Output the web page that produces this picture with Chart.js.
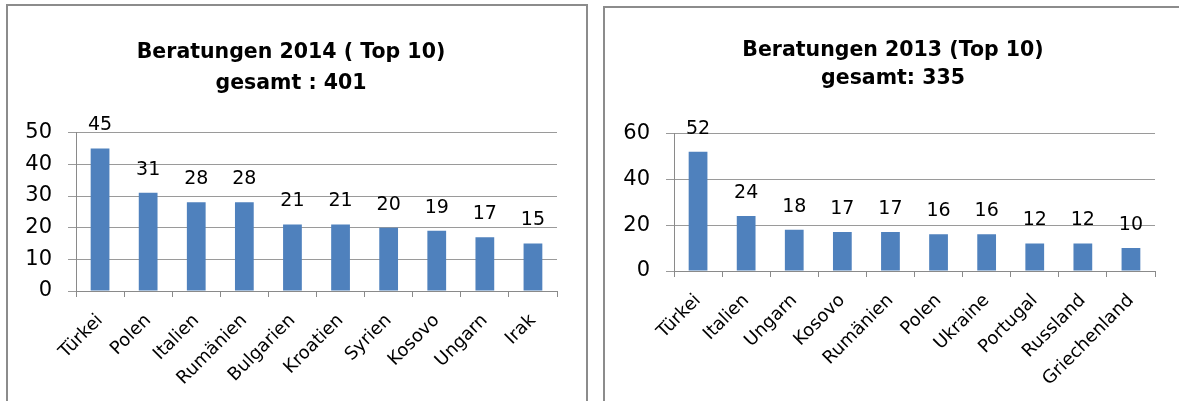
<!DOCTYPE html>
<html>
<head>
<meta charset="utf-8">
<script src="https://cdn.jsdelivr.net/npm/chart.js@4.4.1/dist/chart.umd.min.js"></script>
<style>
  html, body { margin: 0; padding: 0; background: #fff; overflow: hidden; width: 1179px; height: 401px; }
  .box { position: absolute; border: 2px solid #8c8c8c; background: #fff; }
  canvas { position: absolute; left: 0; top: 0; }
</style>
</head>
<body>
<div class="box" id="boxL" style="left:6px; top:4px; width:578px; height:520px;">
  <canvas id="cL" width="566" height="400" style="width:566px;height:400px;"></canvas>
</div>
<div class="box" id="boxR" style="left:603px; top:6px; width:600px; height:520px;">
  <canvas id="cR" width="576" height="400" style="width:576px;height:400px;"></canvas>
</div>
<script>
// ---- data ----
const categories2014 = ['Türkei', 'Polen', 'Italien', 'Rumänien', 'Bulgarien', 'Kroatien', 'Syrien', 'Kosovo', 'Ungarn', 'Irak'];
const values2014 = [45, 31, 28, 28, 21, 21, 20, 19, 17, 15];
const title2014 = ['Beratungen 2014 ( Top 10)', 'gesamt : 401'];
const yTicks2014 = { min: 0, max: 50, step: 10 };

const categories2013 = ['Türkei', 'Italien', 'Ungarn', 'Kosovo', 'Rumänien', 'Polen', 'Ukraine', 'Portugal', 'Russland', 'Griechenland'];
const values2013 = [52, 24, 18, 17, 17, 16, 16, 12, 12, 10];
const title2013 = ['Beratungen 2013 (Top 10)', 'gesamt: 335'];
const yTicks2013 = { min: 0, max: 60, step: 20 };

Chart.defaults.font.family = "'DejaVu Sans', sans-serif";
Chart.defaults.color = '#000';

const valueLabels = {
  id: 'valueLabels',
  afterDatasetsDraw(chart) {
    const ctx = chart.ctx;
    const meta = chart.getDatasetMeta(0);
    const data = chart.data.datasets[0].data;
    ctx.save();
    ctx.font = "19px 'DejaVu Sans'";
    ctx.fillStyle = '#000';
    ctx.textAlign = 'center';
    ctx.textBaseline = 'middle';
    meta.data.forEach((bar, i) => {
      ctx.fillText(String(data[i]), bar.x, bar.y - 23);
    });
    ctx.restore();
  }
};

function makeChart(id, cats, vals, title, yt, g) {
  return new Chart(document.getElementById(id), {
    type: 'bar',
    data: {
      labels: cats,
      datasets: [{
        data: vals,
        backgroundColor: '#4F81BD',
        borderWidth: 0,
        barPercentage: 0.39,
        categoryPercentage: 1.0
      }]
    },
    options: {
      responsive: false,
      animation: false,
      events: [],
      layout: { padding: 0 },
      plugins: {
        legend: { display: false },
        tooltip: { enabled: false },
        title: {
          display: true,
          text: title,
          color: '#000',
          font: { size: 20.5, weight: 'bold', lineHeight: g.lh },
          padding: { top: g.pt, bottom: g.pb }
        }
      },
      scales: {
        x: {
          grid: { display: true, drawOnChartArea: false, drawTicks: true, tickLength: 6, offset: true, color: '#8a8a8a' },
          border: { display: true, color: '#8a8a8a' },
          ticks: { font: { size: 18 }, color: '#000', minRotation: 45, maxRotation: 45, autoSkip: false, padding: g.xpad },
          afterFit: s => { s.height = g.xh; }
        },
        y: {
          min: yt.min, max: yt.max,
          grid: { color: '#9a9a9a', tickLength: 8 },
          border: { display: true, color: '#8a8a8a' },
          ticks: { stepSize: yt.step, font: { size: 21 }, color: '#000', padding: 16 },
          afterFit: s => { s.width = g.yw; }
        },
        yR: {
          position: 'right',
          display: true,
          grid: { display: false, drawTicks: false },
          border: { display: false },
          ticks: { display: false },
          afterFit: s => { s.width = g.rw; }
        }
      }
    },
    plugins: [valueLabels]
  });
}

makeChart('cL', categories2014, values2014, title2014, yTicks2014,
  { lh: 1.48, pt: 32, pb: 34, xh: 115, yw: 68, rw: 17, xpad: 13 });
makeChart('cR', categories2013, values2013, title2013, yTicks2013,
  { lh: 1.4, pt: 28, pb: 40, xh: 137, yw: 69, rw: 26, xpad: 13 });
</script>
</body>
</html>
